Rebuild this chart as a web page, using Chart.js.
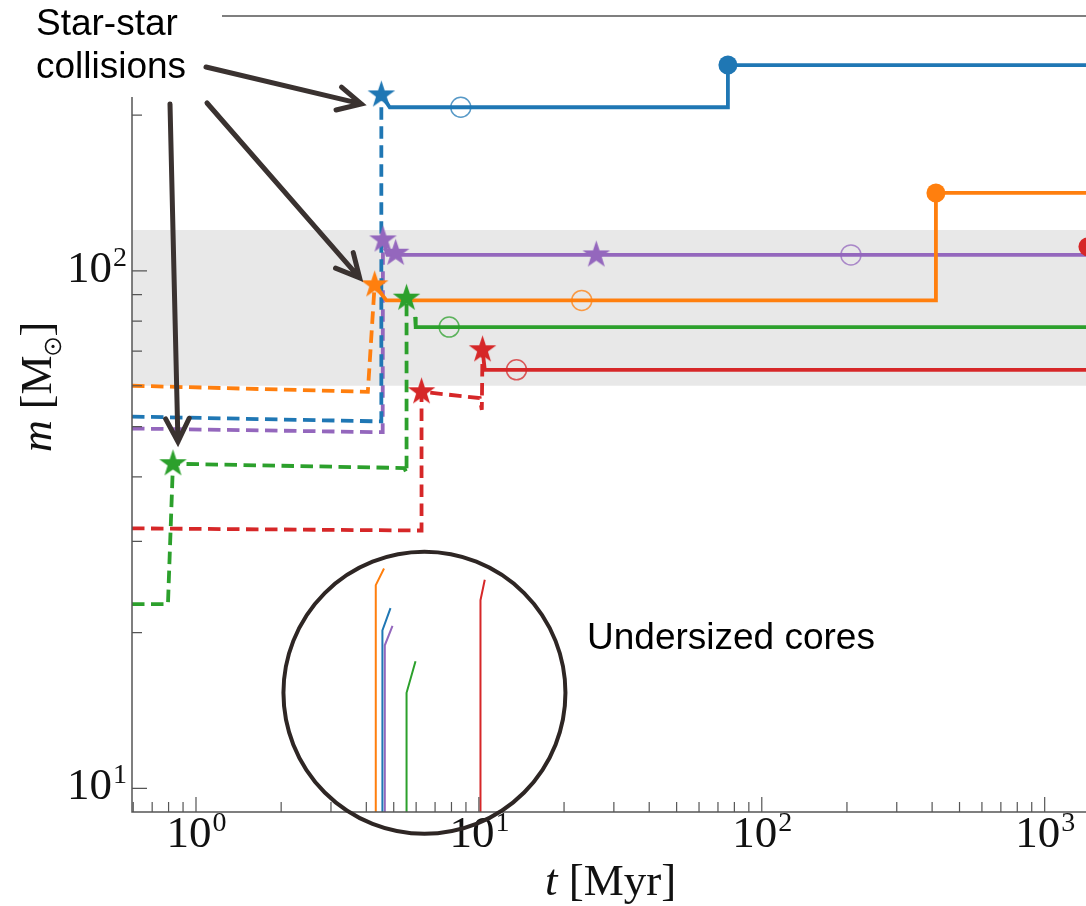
<!DOCTYPE html>
<html>
<head>
<meta charset="utf-8">
<title>Mass growth through star-star collisions</title>
<script src="https://cdn.jsdelivr.net/npm/chart.js@4.4.1/dist/chart.umd.min.js"></script>
<style>
  html, body { margin: 0; padding: 0; background: #fff; overflow: hidden; }
  #wrap { position: relative; width: 1120px; height: 906px; }
</style>
</head>
<body>
<div id="wrap"><canvas id="mass-growth-chart" width="1120" height="906"></canvas></div>
<script>
// Axis ranges and labelled decades
const tRange = [0.594, 1846];
const mRange = [9.0, 311];
const xTickLabels = [1, 10, 100, 1000];
const yTickLabels = [10, 100];
const shadedMassBand = [60, 120];

// Tracks before the runaway collision (dashed)
const blueEarlyT = [0.594, 4.39, 4.52, 4.52];
const blueEarlyM = [52.3, 51.2, 51.2, 218.9];
const orangeEarlyT = [0.594, 4.05, 4.28];
const orangeEarlyM = [60.0, 58.4, 94.0];
const greenEarlyT = [0.594, 0.796, 0.829, 5.45, 5.55, 5.55];
const greenEarlyM = [22.7, 22.7, 42.4, 41.6, 40.7, 88.6];
const redEarlyT = [0.594, 6.10, 6.27, 6.27, 10.07, 10.24, 10.3];
const redEarlyM = [31.8, 31.5, 31.5, 58.4, 56.8, 53.9, 70.4];
const purpleEarlyT = [0.594, 4.40, 4.57, 4.58];
const purpleEarlyM = [49.6, 48.8, 48.8, 114.8];

// Tracks after the collision (solid)
const blueLateT = [4.52, 4.84, 75.9, 75.9, 2000];
const blueLateM = [218.9, 207.2, 207.2, 250, 250];
const orangeLateT = [4.28, 4.71, 412.6, 412.6, 2000];
const orangeLateM = [94.0, 87.7, 87.7, 141.5, 141.5];
const greenLateT = [5.95, 5.98, 2000];
const greenLateM = [81.5, 77.9, 77.9];
const redLateT = [10.3, 10.49, 1422, 1422, 2000];
const redLateM = [70.4, 64.4, 64.4, 111.4, 111.4];
const purpleLateT = [4.58, 4.75, 2000];
const purpleLateM = [114.8, 107.4, 107.4];

// Collision events (stars)
const blueStarT = [4.52], blueStarM = [218.9];
const orangeStarT = [4.28], orangeStarM = [94.0];
const greenStarT = [0.829, 5.55], greenStarM = [42.4, 88.6];
const redStarT = [6.27, 10.3], redStarM = [58.4, 70.4];
const purpleStarT = [4.58, 5.08, 26.0], purpleStarM = [114.8, 108.2, 107.4];

// Filled and open circle events
const blueDotT = [75.9], blueDotM = [250];
const orangeDotT = [412.6], orangeDotM = [141.5];
const redDotT = [1422], redDotM = [111.4];
const blueRingT = [8.63], blueRingM = [207.2];
const orangeRingT = [23.1], orangeRingM = [87.7];
const greenRingT = [7.85], greenRingM = [77.9];
const redRingT = [13.58], redRingM = [64.4];
const purpleRingT = [206.6], purpleRingM = [107.4];

// Core masses (thin lines rising from the axis)
const blueCoreT = [4.56, 4.56, 4.87], blueCoreM = [9.0, 20.2, 22.3];
const orangeCoreT = [4.32, 4.32, 4.62], orangeCoreM = [9.0, 24.7, 26.6];
const greenCoreT = [5.55, 5.55, 5.97], greenCoreM = [9.0, 15.3, 17.6];
const redCoreT = [10.13, 10.13, 10.49], redCoreM = [9.0, 23.1, 25.3];
const purpleCoreT = [4.65, 4.65, 4.95], purpleCoreM = [9.0, 18.9, 20.6];

// Centre of the "undersized cores" circle
const coreCircleT = 6.42, coreCircleM = 15.3;

const colors = {
    blue: '#1f77b4', orange: '#ff7f0e', green: '#2ca02c', red: '#d62728', purple: '#9467bd'
};
const spineColor = '#555555';
const inkColor = '#3a3230';
const serif = '"Liberation Serif", "Times New Roman", serif';
const sans = '"Liberation Sans", Arial, sans-serif';

const pts = (ts, ms) => ts.map((t, i) => ({ x: t, y: ms[i] }));

function withAlpha(hex, a) {
    const n = parseInt(hex.slice(1), 16);
    return `rgba(${n >> 16}, ${(n >> 8) & 255}, ${n & 255}, ${a})`;
}

// filled five-point star used as a point style
function starMarker(color, r) {
    const size = Math.ceil(r * 2) + 2;
    const c = document.createElement('canvas');
    c.width = c.height = size;
    const g = c.getContext('2d');
    g.translate(size / 2, size / 2);
    g.beginPath();
    for (let i = 0; i < 10; i++) {
        const rad = i % 2 === 0 ? r : r * 0.39;
        const ang = -Math.PI / 2 + i * Math.PI / 5;
        g.lineTo(rad * Math.cos(ang), rad * Math.sin(ang));
    }
    g.closePath();
    g.fillStyle = color;
    g.fill();
    return c;
}

const runs = [
    { c: colors.blue, early: [blueEarlyT, blueEarlyM], late: [blueLateT, blueLateM], stars: [blueStarT, blueStarM], dots: [blueDotT, blueDotM], rings: [blueRingT, blueRingM], core: [blueCoreT, blueCoreM] },
    { c: colors.orange, early: [orangeEarlyT, orangeEarlyM], late: [orangeLateT, orangeLateM], stars: [orangeStarT, orangeStarM], dots: [orangeDotT, orangeDotM], rings: [orangeRingT, orangeRingM], core: [orangeCoreT, orangeCoreM] },
    { c: colors.green, early: [greenEarlyT, greenEarlyM], late: [greenLateT, greenLateM], stars: [greenStarT, greenStarM], dots: null, rings: [greenRingT, greenRingM], core: [greenCoreT, greenCoreM] },
    { c: colors.red, early: [redEarlyT, redEarlyM], late: [redLateT, redLateM], stars: [redStarT, redStarM], dots: [redDotT, redDotM], rings: [redRingT, redRingM], core: [redCoreT, redCoreM] },
    { c: colors.purple, early: [purpleEarlyT, purpleEarlyM], late: [purpleLateT, purpleLateM], stars: [purpleStarT, purpleStarM], dots: null, rings: [purpleRingT, purpleRingM], core: [purpleCoreT, purpleCoreM] }
];

const datasets = [];
runs.forEach(run => {
    datasets.push({
        data: pts(...run.core), borderColor: run.c, borderWidth: 2,
        pointRadius: 0, order: 4
    });
    datasets.push({
        data: pts(...run.early), borderColor: run.c, borderWidth: 3.8,
        borderDash: [12.5, 6.5], pointRadius: 0, order: 3
    });
    datasets.push({
        data: pts(...run.late), borderColor: run.c, borderWidth: 3.8,
        pointRadius: 0, order: 2
    });
    datasets.push({
        data: pts(...run.rings), showLine: false, pointStyle: 'circle', pointRadius: 10,
        backgroundColor: 'rgba(0,0,0,0)', borderColor: withAlpha(run.c, 0.75),
        borderWidth: 1.5, order: 1
    });
    if (run.dots) {
        datasets.push({
            data: pts(...run.dots), showLine: false, pointStyle: 'circle', pointRadius: 9.5,
            backgroundColor: run.c, borderWidth: 0, order: 1
        });
    }
    datasets.push({
        data: pts(...run.stars), showLine: false, pointStyle: starMarker(run.c, 14.5),
        order: 0
    });
});

function minorValues(lo, hi) {
    const out = [];
    for (let k = Math.floor(Math.log10(lo)); k <= Math.ceil(Math.log10(hi)); k++) {
        for (let j = 1; j <= 9; j++) {
            const v = j * Math.pow(10, k);
            if (v > lo * 1.001 && v < hi * 0.999) out.push({ v, major: j === 1 });
        }
    }
    return out;
}

// "10" with a raised exponent
function drawPower(ctx, exp, x, baseline, align) {
    ctx.font = `45px ${serif}`;
    const wb = ctx.measureText('10').width;
    ctx.font = `28px ${serif}`;
    const ws = ctx.measureText(String(exp)).width;
    const left = align === 'center' ? x - (wb + ws) / 2 : x - (wb + ws);
    ctx.fillStyle = '#111';
    ctx.textAlign = 'left';
    ctx.textBaseline = 'alphabetic';
    ctx.font = `45px ${serif}`;
    ctx.fillText('10', left, baseline);
    ctx.font = `28px ${serif}`;
    ctx.fillText(String(exp), left + wb + 1, baseline - 16);
}

function drawArrow(ctx, x0, y0, x1, y1) {
    const ang = Math.atan2(y1 - y0, x1 - x0);
    const len = 26, spread = 0.47;
    ctx.beginPath();
    ctx.moveTo(x0, y0);
    ctx.lineTo(x1, y1);
    ctx.moveTo(x1 - len * Math.cos(ang - spread), y1 - len * Math.sin(ang - spread));
    ctx.lineTo(x1, y1);
    ctx.lineTo(x1 - len * Math.cos(ang + spread), y1 - len * Math.sin(ang + spread));
    ctx.stroke();
}

const frameAndNotes = {
    id: 'frameAndNotes',
    beforeDatasetsDraw(chart) {
        const { ctx, chartArea: a, scales: { y } } = chart;
        const top = y.getPixelForValue(shadedMassBand[1]);
        const bot = y.getPixelForValue(shadedMassBand[0]);
        ctx.save();
        ctx.fillStyle = '#e8e8e8';
        ctx.fillRect(a.left, top, a.right - a.left, bot - top);
        ctx.restore();
    },
    afterDraw(chart) {
        const { ctx, chartArea: a, scales: { x, y } } = chart;
        ctx.save();

        // frame
        ctx.strokeStyle = spineColor;
        ctx.lineWidth = 1.5;
        ctx.beginPath();
        ctx.moveTo(a.left, a.top);
        ctx.lineTo(a.left, a.bottom);
        ctx.lineTo(a.right, a.bottom);
        ctx.moveTo(a.left, a.top);
        ctx.lineTo(a.right, a.top);
        ctx.stroke();

        // inward ticks
        ctx.lineWidth = 1.2;
        ctx.beginPath();
        minorValues(tRange[0], tRange[1]).forEach(({ v, major }) => {
            const px = x.getPixelForValue(v);
            ctx.moveTo(px, a.bottom);
            ctx.lineTo(px, a.bottom - (major ? 15 : 10));
        });
        minorValues(mRange[0], mRange[1]).forEach(({ v, major }) => {
            const py = y.getPixelForValue(v);
            ctx.moveTo(a.left, py);
            ctx.lineTo(a.left + (major ? 15 : 10), py);
        });
        ctx.stroke();

        // tick labels
        xTickLabels.forEach(v => drawPower(ctx, Math.round(Math.log10(v)), x.getPixelForValue(v), a.bottom + 35, 'center'));
        yTickLabels.forEach(v => drawPower(ctx, Math.round(Math.log10(v)), a.left - 6, y.getPixelForValue(v) + 11, 'right'));

        // axis titles
        ctx.fillStyle = '#111';
        ctx.textBaseline = 'alphabetic';
        ctx.textAlign = 'left';
        ctx.font = `italic 45px ${serif}`;
        let tx = 545;
        ctx.fillText('t', tx, 895);
        tx += ctx.measureText('t').width;
        ctx.font = `45px ${serif}`;
        ctx.fillText(' [Myr]', tx, 895);

        ctx.save();
        ctx.translate(51, 452);
        ctx.rotate(-Math.PI / 2);
        ctx.font = `italic 44px ${serif}`;
        ctx.fillText('m', 0, 0);
        let ty = ctx.measureText('m').width;
        ctx.font = `44px ${serif}`;
        ctx.fillText(' [M', ty, 0);
        ty += ctx.measureText(' [M').width;
        // solar symbol as subscript
        ctx.strokeStyle = '#111';
        ctx.lineWidth = 1.6;
        ctx.beginPath();
        ctx.arc(ty + 9, 2, 7.5, 0, Math.PI * 2);
        ctx.stroke();
        ctx.beginPath();
        ctx.arc(ty + 9, 2, 1.6, 0, Math.PI * 2);
        ctx.fill();
        ctx.fillText(']', ty + 19, 0);
        ctx.restore();

        // circle around the core tracks
        ctx.strokeStyle = '#2e2624';
        ctx.lineWidth = 4;
        ctx.beginPath();
        ctx.arc(x.getPixelForValue(coreCircleT), y.getPixelForValue(coreCircleM), 141, 0, Math.PI * 2);
        ctx.stroke();

        ctx.fillStyle = '#000';
        ctx.font = `37px ${sans}`;
        ctx.fillText('Undersized cores', 587, 649);

        // label box in the top-left corner
        ctx.fillStyle = '#fff';
        ctx.fillRect(0, 0, 222, 97);
        ctx.fillStyle = '#000';
        ctx.font = `37px ${sans}`;
        ctx.fillText('Star-star', 36, 35);
        ctx.fillText('collisions', 36, 78);

        // arrows to the collision stars
        ctx.strokeStyle = inkColor;
        ctx.lineWidth = 5;
        ctx.lineCap = 'round';
        ctx.lineJoin = 'miter';
        const bx = x.getPixelForValue(blueStarT[0]), by = y.getPixelForValue(blueStarM[0]);
        const ox = x.getPixelForValue(orangeStarT[0]), oy = y.getPixelForValue(orangeStarM[0]);
        const gx = x.getPixelForValue(greenStarT[0]), gy = y.getPixelForValue(greenStarM[0]);
        drawArrow(ctx, 206, 67, bx - 20, by + 9);
        drawArrow(ctx, 207, 103, ox - 15, oy - 7);
        drawArrow(ctx, 170, 104, gx + 5, gy - 22);

        ctx.restore();
    }
};

new Chart(document.getElementById('mass-growth-chart'), {
    type: 'line',
    data: { datasets },
    options: {
        responsive: false,
        animation: false,
        devicePixelRatio: 1,
        layout: { autoPadding: false, padding: { left: 132, top: 16, right: 0, bottom: 94 } },
        elements: { line: { tension: 0, fill: false } },
        scales: {
            x: {
                type: 'logarithmic', min: tRange[0], max: tRange[1],
                grid: { display: false, drawTicks: false }, border: { display: false },
                ticks: { display: false },
                afterFit: s => { s.height = 0; }
            },
            y: {
                type: 'logarithmic', min: mRange[0], max: mRange[1],
                grid: { display: false, drawTicks: false }, border: { display: false },
                ticks: { display: false },
                afterFit: s => { s.width = 0; }
            }
        },
        plugins: { legend: { display: false }, tooltip: { enabled: false } }
    },
    plugins: [frameAndNotes]
});
</script>
</body>
</html>
